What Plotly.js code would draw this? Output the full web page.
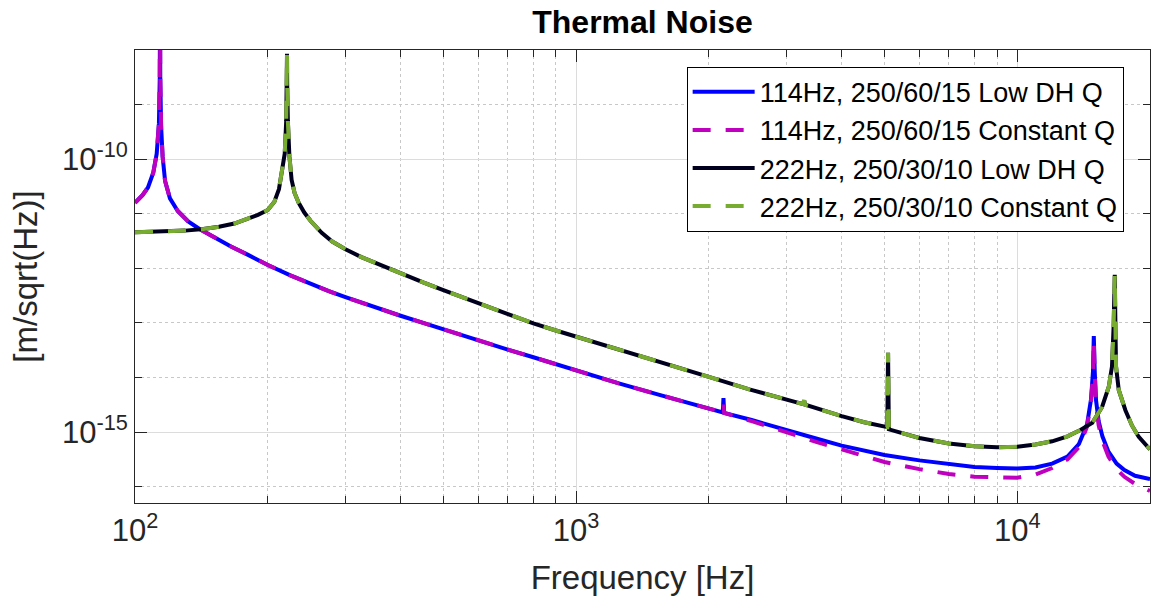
<!DOCTYPE html>
<html>
<head>
<meta charset="utf-8">
<script src="https://cdn.plot.ly/plotly-3.0.1.min.js"></script>
<style>html,body{margin:0;padding:0;background:#fff;}#chart{width:1151px;height:609px;}</style>
</head>
<body>
<div id="chart"></div>
<script>
// Frequencies [Hz] and amplitudes [m/sqrt(Hz)]
const freqA = [100, 104, 107, 110, 112, 113.3, 113.8, 113.95, 114.1, 114.6, 115.5, 117, 120, 125, 132, 140, 150, 165, 180, 200, 225, 250, 275, 300, 350, 400, 450, 500, 600, 700, 800, 900, 1000, 1250, 1545, 2000, 2150, 2158, 2166, 2500, 3000, 3500, 4000, 5000, 6000, 7000, 8000, 9000, 10000, 11000, 12000, 13000, 13800, 14400, 14700, 14850, 14915, 14990, 15090, 15300, 15600, 16100, 16800, 17500, 18500, 20000];
const lowDH114 = [1.58e-11, 2.19e-11, 3.02e-11, 5.62e-11, 1.26e-10, 4.47e-10, 3.16e-9, 1.0e-7, 3.16e-9, 3.98e-10, 1.12e-10, 3.98e-11, 1.91e-11, 1.12e-11, 7.24e-12, 5.25e-12, 3.80e-12, 2.51e-12, 1.78e-12, 1.15e-12, 7.41e-13, 5.13e-13, 3.80e-13, 2.95e-13, 1.91e-13, 1.35e-13, 1.00e-13, 7.59e-14, 4.79e-14, 3.24e-14, 2.34e-14, 1.74e-14, 1.35e-14, 7.76e-15, 4.79e-15, 2.69e-15, 2.29e-15, 4.17e-15, 2.24e-15, 1.66e-15, 1.07e-15, 7.59e-16, 5.62e-16, 3.80e-16, 3.02e-16, 2.57e-16, 2.29e-16, 2.19e-16, 2.14e-16, 2.24e-16, 2.63e-16, 3.55e-16, 6.03e-16, 1.38e-15, 3.98e-15, 1.26e-14, 5.75e-14, 1.26e-14, 3.80e-15, 1.58e-15, 8.32e-16, 4.37e-16, 2.63e-16, 2.00e-16, 1.58e-16, 1.38e-16];
const constQ114 = [1.58e-11, 2.19e-11, 3.02e-11, 5.62e-11, 1.26e-10, 4.47e-10, 3.16e-9, 1.0e-7, 3.16e-9, 3.98e-10, 1.12e-10, 3.98e-11, 1.91e-11, 1.12e-11, 7.24e-12, 5.25e-12, 3.80e-12, 2.51e-12, 1.78e-12, 1.15e-12, 7.41e-13, 5.13e-13, 3.80e-13, 2.95e-13, 1.91e-13, 1.35e-13, 1.00e-13, 7.59e-14, 4.79e-14, 3.24e-14, 2.34e-14, 1.74e-14, 1.35e-14, 7.76e-15, 4.79e-15, 2.69e-15, 2.29e-15, 3.16e-15, 2.24e-15, 1.58e-15, 9.77e-16, 6.61e-16, 4.79e-16, 2.82e-16, 2.09e-16, 1.70e-16, 1.51e-16, 1.45e-16, 1.45e-16, 1.66e-16, 2.19e-16, 3.16e-16, 5.25e-16, 1.26e-15, 3.55e-15, 1.12e-14, 4.68e-14, 1.12e-14, 3.31e-15, 1.32e-15, 6.92e-16, 3.55e-16, 2.09e-16, 1.51e-16, 1.12e-16, 8.32e-17];
const freqB = [100, 115, 130, 143, 155, 168, 180, 190, 200, 207, 212, 216, 218.5, 220.2, 220.9, 221.1, 221.3, 222.1, 223.9, 226.5, 230, 235, 242, 250, 265, 280, 300, 325, 350, 400, 450, 500, 600, 700, 800, 900, 1000, 1250, 1545, 2000, 2470, 3000, 3270, 3288, 3306, 4000, 4500, 5075, 5096, 5117, 5500, 6000, 7000, 8000, 9000, 10000, 11000, 12000, 13000, 13800, 14800, 15575, 16130, 16400, 16540, 16640, 16700, 16750, 16990, 17590, 18200, 18860, 20000];
const lowDH222 = [4.57e-12, 4.68e-12, 4.90e-12, 5.25e-12, 5.75e-12, 6.61e-12, 7.94e-12, 9.55e-12, 1.17e-11, 1.66e-11, 2.82e-11, 6.31e-11, 1.26e-10, 5.01e-10, 2.51e-9, 8.51e-9, 2.51e-9, 5.01e-10, 1.12e-10, 4.17e-11, 2.40e-11, 1.58e-11, 1.05e-11, 7.41e-12, 4.47e-12, 3.09e-12, 2.24e-12, 1.62e-12, 1.26e-12, 7.94e-13, 5.50e-13, 3.98e-13, 2.29e-13, 1.45e-13, 9.77e-14, 7.24e-14, 5.62e-14, 3.16e-14, 1.95e-14, 1.02e-14, 6.03e-15, 3.98e-15, 3.24e-15, 3.80e-15, 3.16e-15, 1.95e-15, 1.51e-15, 1.23e-15, 2.82e-14, 1.12e-15, 9.33e-16, 7.76e-16, 6.17e-16, 5.50e-16, 5.25e-16, 5.37e-16, 5.89e-16, 6.76e-16, 8.32e-16, 1.05e-15, 1.48e-15, 2.88e-15, 6.76e-15, 1.58e-14, 8.51e-14, 7.59e-13, 7.94e-14, 1.58e-14, 5.89e-15, 2.51e-15, 1.32e-15, 8.13e-16, 4.79e-16];
const constQ222 = [4.57e-12, 4.68e-12, 4.90e-12, 5.25e-12, 5.75e-12, 6.61e-12, 7.94e-12, 9.55e-12, 1.17e-11, 1.66e-11, 2.82e-11, 6.31e-11, 1.26e-10, 5.01e-10, 2.51e-9, 8.51e-9, 2.51e-9, 5.01e-10, 1.12e-10, 4.17e-11, 2.40e-11, 1.58e-11, 1.05e-11, 7.41e-12, 4.47e-12, 3.09e-12, 2.24e-12, 1.62e-12, 1.26e-12, 7.94e-13, 5.50e-13, 3.98e-13, 2.29e-13, 1.45e-13, 9.77e-14, 7.24e-14, 5.62e-14, 3.16e-14, 1.95e-14, 1.02e-14, 6.03e-15, 3.98e-15, 3.24e-15, 3.80e-15, 3.16e-15, 1.95e-15, 1.51e-15, 1.23e-15, 2.82e-14, 1.12e-15, 9.33e-16, 7.76e-16, 6.17e-16, 5.50e-16, 5.25e-16, 5.37e-16, 5.89e-16, 6.76e-16, 8.32e-16, 1.05e-15, 1.48e-15, 2.88e-15, 6.76e-15, 1.58e-14, 8.51e-14, 7.59e-13, 7.94e-14, 1.58e-14, 5.89e-15, 2.51e-15, 1.32e-15, 8.13e-16, 4.79e-16];

const seriesNames = ['114Hz, 250/60/15 Low DH Q', '114Hz, 250/60/15 Constant Q', '222Hz, 250/30/10 Low DH Q', '222Hz, 250/30/10 Constant Q'];
const xTickVals = [100, 1000, 10000];
const xTickText = ['10<sup>2</sup>', '10<sup>3</sup>', '10<sup>4</sup>'];
const yTickVals = [1e-15, 1e-10];
const yTickText = ['10<sup>-15</sup>', '10<sup>-10</sup>'];
const xMinorVals = [200, 300, 400, 500, 600, 700, 800, 900, 2000, 3000, 4000, 5000, 6000, 7000, 8000, 9000, 20000];
const yMinorVals = [1e-16, 1e-14, 1e-13, 1e-12, 1e-11, 1e-9, 1e-8];

const FONT = 'Arial, "Liberation Sans", Helvetica, sans-serif';
const DASH = '18px,15px';

const traces = [
  {x: freqA, y: lowDH114, name: seriesNames[0], mode: 'lines', line: {color: '#0000ff', width: 4}},
  {x: freqA, y: constQ114, name: seriesNames[1], mode: 'lines', line: {color: '#bf00bf', width: 4, dash: DASH}},
  {x: freqB, y: lowDH222, name: seriesNames[2], mode: 'lines', line: {color: '#00001e', width: 4}},
  {x: freqB, y: constQ222, name: seriesNames[3], mode: 'lines', line: {color: '#77ac30', width: 4, dash: DASH}}
];

const axisCommon = {
  showline: true, linecolor: '#262626', linewidth: 1, mirror: 'allticks',
  ticks: 'inside', ticklen: 12, tickcolor: '#262626', tickwidth: 1,
  showgrid: true, gridcolor: '#dcdcdc', gridwidth: 1, zeroline: false,
  tickfont: {family: FONT, size: 31, color: '#262626'}
};

const layout = {
  width: 1151, height: 609,
  margin: {l: 135, r: 1, t: 50, b: 106},
  paper_bgcolor: '#ffffff', plot_bgcolor: '#ffffff',
  showlegend: true,
  title: {text: '<b>Thermal Noise</b>', font: {family: FONT, size: 32, color: '#000'}, x: 0.5, xref: 'paper', y: 0.965, yref: 'container', yanchor: 'middle'},
  xaxis: Object.assign({}, axisCommon, {
    type: 'log', range: [2, Math.log10(20000)],
    tickmode: 'array', tickvals: xTickVals, ticktext: xTickText,
    minor: {tickmode: 'array', tickvals: xMinorVals, ticks: 'inside', ticklen: 7, tickcolor: '#262626', showgrid: true, gridcolor: '#c8c8c8', griddash: 'dot', gridwidth: 1},
    title: {text: 'Frequency [Hz]', font: {family: FONT, size: 33, color: '#262626'}, standoff: 18}
  }),
  yaxis: Object.assign({}, axisCommon, {
    type: 'log', range: [Math.log10(5e-17), -8],
    tickmode: 'array', tickvals: yTickVals, ticktext: yTickText,
    minor: {tickmode: 'array', tickvals: yMinorVals, ticks: 'inside', ticklen: 7, tickcolor: '#262626', showgrid: true, gridcolor: '#c8c8c8', griddash: 'dot', gridwidth: 1},
    title: {text: '[m/sqrt(Hz)]', font: {family: FONT, size: 33, color: '#262626'}, standoff: 14}
  }),
  legend: {
    x: 0.5435, y: 0.963, xanchor: 'left', yanchor: 'top',
    bgcolor: '#ffffff', bordercolor: '#000000', borderwidth: 1,
    font: {family: FONT, size: 27, color: '#000'},
    itemwidth: 62, tracegroupgap: 0
  }
};

Plotly.newPlot('chart', traces, layout, {displayModeBar: false, staticPlot: true});
</script>
</body>
</html>
